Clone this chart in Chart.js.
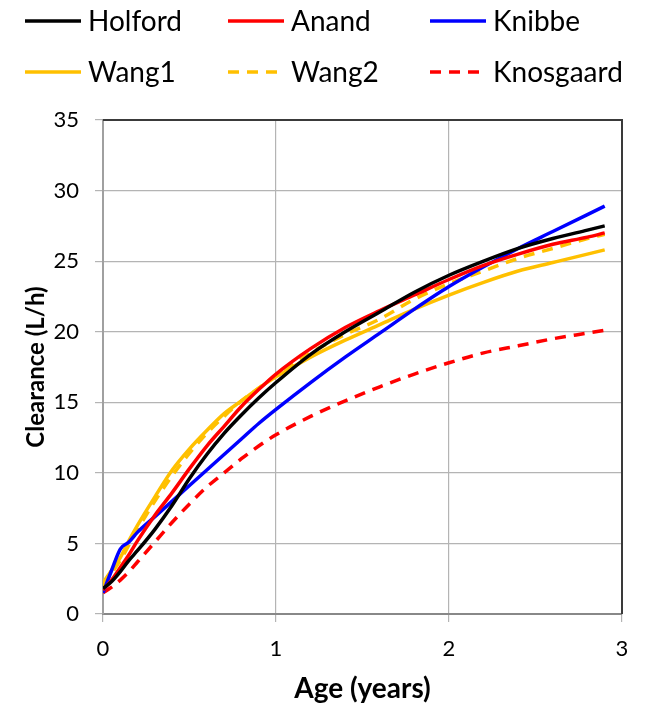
<!DOCTYPE html>
<html>
<head>
<meta charset="utf-8">
<script src="https://cdn.jsdelivr.net/npm/chart.js@4"></script>
<style>
  html, body { margin: 0; padding: 0; background: #fff; }
  #wrap { width: 645px; height: 710px; }
</style>
</head>
<body>
<div id="wrap"><canvas id="clearanceChart" width="645" height="710"></canvas></div>
<script>
// Age points (years)
const ages = [0, 0.05, 0.1, 0.15, 0.2, 0.3, 0.4, 0.5, 0.6, 0.7, 0.8, 0.9, 1.0,
  1.2, 1.4, 1.6, 1.8, 2.0, 2.2, 2.4, 2.6, 2.8, 2.9];

// Clearance (L/h) per model
const holford = [1.8, 2.3, 3.0, 3.8, 4.5, 6.0, 7.7, 9.6, 11.3, 12.8, 14.1, 15.3, 16.4,
  18.4, 20.0, 21.4, 22.8, 24.0, 25.0, 25.9, 26.6, 27.2, 27.5];
const anand = [1.7, 2.4, 3.3, 4.2, 5.2, 7.0, 8.6, 10.3, 11.9, 13.3, 14.7, 15.9, 17.0,
  18.8, 20.3, 21.5, 22.6, 23.7, 24.7, 25.5, 26.2, 26.7, 27.0];
const knibbe = [1.5, 3.1, 4.6, 5.1, 5.8, 6.9, 8.0, 9.1, 10.2, 11.3, 12.4, 13.5, 14.5,
  16.4, 18.2, 19.9, 21.6, 23.2, 24.6, 25.9, 27.1, 28.3, 28.9];
const wang1 = [2.2, 3.1, 4.0, 5.2, 6.3, 8.3, 10.2, 11.7, 13.0, 14.2, 15.1, 16.0, 16.8,
  18.2, 19.4, 20.5, 21.6, 22.6, 23.5, 24.3, 24.9, 25.5, 25.8];
const wang2 = [2.0, 2.9, 3.8, 4.9, 6.0, 8.0, 9.8, 11.4, 12.8, 14.0, 15.1, 16.0, 16.9,
  18.5, 19.8, 20.9, 22.3, 23.4, 24.3, 25.2, 25.9, 26.6, 26.9];
const knosgaard = [1.5, 1.9, 2.4, 3.0, 3.7, 5.1, 6.5, 7.8, 9.0, 10.0, 11.0, 11.9, 12.7,
  14.0, 15.1, 16.1, 17.0, 17.8, 18.5, 19.0, 19.5, 19.9, 20.1];

const seriesNames = ['Holford', 'Anand', 'Knibbe', 'Wang1', 'Wang2', 'Knosgaard'];
const seriesValues = [holford, anand, knibbe, wang1, wang2, knosgaard];
const seriesColors = ['#000000', '#ff0000', '#0000ff', '#ffc000', '#ffc000', '#ff0000'];
const seriesDashed = [false, false, false, false, true, true];

const yTicks = [0, 5, 10, 15, 20, 25, 30, 35];
const xTicks = [0, 1, 2, 3];

const FONT = 'Lato, "Open Sans", sans-serif';

// Legend laid out in fixed columns like the original figure
const gridLegend = {
  id: 'gridLegend',
  afterDraw(chart) {
    const ctx = chart.ctx;
    const colX = [25, 228, 430];
    const rowY = [21, 72];
    ctx.save();
    chart.data.datasets.forEach((ds, i) => {
      const x = colX[i % 3];
      const y = rowY[Math.floor(i / 3)];
      ctx.strokeStyle = ds.borderColor;
      ctx.lineWidth = 3.5;
      ctx.setLineDash(ds.borderDash || []);
      ctx.beginPath();
      ctx.moveTo(x, y);
      ctx.lineTo(x + 56, y);
      ctx.stroke();
      ctx.setLineDash([]);
      ctx.fillStyle = '#000';
      ctx.font = '28px ' + FONT;
      ctx.textBaseline = 'middle';
      ctx.fillText(ds.label, x + 63, y + 1);
    });
    ctx.restore();
  }
};

// Dark frame on the top and right of the plot area
const plotFrame = {
  id: 'plotFrame',
  beforeDatasetsDraw(chart) {
    const { ctx, chartArea: a } = chart;
    ctx.save();
    ctx.strokeStyle = '#3a3a3a';
    ctx.lineWidth = 2;
    ctx.beginPath();
    ctx.moveTo(a.left, a.top);
    ctx.lineTo(a.right, a.top);
    ctx.lineTo(a.right, a.bottom);
    ctx.stroke();
    ctx.restore();
  }
};

document.addEventListener('DOMContentLoaded', () => {
  const datasets = seriesNames.map((name, i) => ({
    label: name,
    data: ages.map((a, j) => ({ x: a, y: seriesValues[i][j] })),
    borderColor: seriesColors[i],
    borderWidth: 3.5,
    borderDash: seriesDashed[i] ? [11, 8] : [],
    pointRadius: 0,
    cubicInterpolationMode: 'monotone',
    fill: false,
  }));

  new Chart(document.getElementById('clearanceChart'), {
    type: 'line',
    data: { datasets },
    options: {
      responsive: false,
      animation: false,
      layout: { padding: { top: 120, right: 23, left: 0, bottom: 0 } },
      plugins: {
        legend: { display: false },
        tooltip: { enabled: false },
      },
      scales: {
        x: {
          type: 'linear',
          min: 0,
          max: 3,
          afterBuildTicks: (scale) => { scale.ticks = xTicks.map(v => ({ value: v })); },
          afterFit: (scale) => { scale.height = 96; },
          border: { color: '#888888', width: 2 },
          grid: { color: '#b4b4b4', lineWidth: 1.2, tickLength: 8 },
          ticks: { font: { family: FONT, size: 22 }, color: '#000', padding: 14 },
          title: {
            display: true,
            text: 'Age (years)',
            font: { family: FONT, size: 28, weight: 'bold' },
            color: '#000',
            padding: { top: 4, bottom: 4 },
          },
        },
        y: {
          min: 0,
          max: 35,
          afterBuildTicks: (scale) => { scale.ticks = yTicks.map(v => ({ value: v })); },
          afterFit: (scale) => { scale.width = 103; },
          border: { color: '#a0a0a0', width: 2 },
          grid: { color: '#b4b4b4', lineWidth: 1.2, tickLength: 8 },
          ticks: { font: { family: FONT, size: 22 }, color: '#000', padding: 16 },
          title: {
            display: true,
            text: 'Clearance (L/h)',
            font: { family: FONT, size: 24, weight: 'bold' },
            color: '#000',
            padding: { top: 22, bottom: 4 },
          },
        },
      },
    },
    plugins: [gridLegend, plotFrame],
  });
});
</script>
</body>
</html>
